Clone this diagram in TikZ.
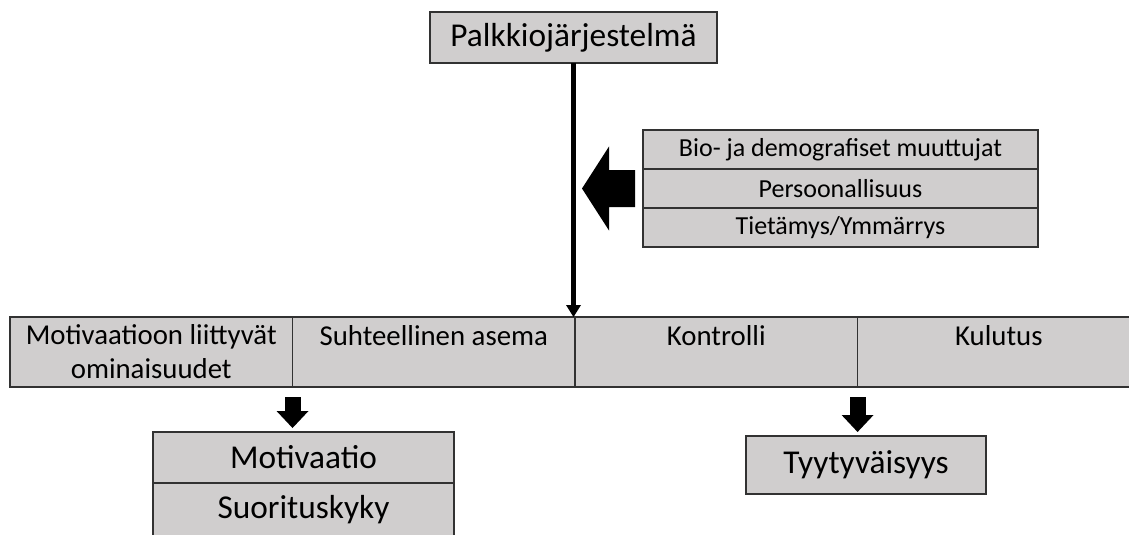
\documentclass[tikz,border=0pt]{standalone}
\usepackage{fontspec}
\setmainfont{Carlito}
\usetikzlibrary{positioning,arrows.meta}
\definecolor{cellgray}{RGB}{208,206,206}
\definecolor{cellline}{RGB}{50,50,50}

\begin{document}
\begin{tikzpicture}[x=0.75pt,y=-0.75pt,
  cell/.style={draw=cellline,line width=1.2pt,fill=cellgray,inner sep=2pt,outer sep=0pt,align=center},
  bigtext/.style={font=\fontsize{25}{30}\selectfont},
  midtext/.style={font=\fontsize{21.6}{25.5}\selectfont},
  smalltext/.style={font=\fontsize{19.5}{23}\selectfont},
  rowcell/.style={cell,midtext,minimum width=211.9pt,minimum height=52.5pt},
  factor/.style={cell,smalltext,minimum width=296.25pt,minimum height=29.25pt},
  result/.style={cell,bigtext,minimum height=38.25pt},
  blockarrow/.style={line width=12pt,-{Triangle[width=24pt,length=12.75pt,line width=0pt]}}]
  \useasboundingbox (0,0) rectangle (1129,535);
  % top
  \node[result,minimum width=215.25pt] (pj) at (573.5,37.5) {Palkkiojärjestelmä};
  % factors on the right
  \node[factor] (bio) at (840.5,149.5) {Bio- ja demografiset muuttujat};
  \node[factor,below=0pt of bio] (pers) {Persoonallisuus};
  \node[factor,below=0pt of pers] (tiet) {Tietämys/Ymmärrys};
  % row
  \node[rowcell] (motom) at (151.25,352) {Motivaatioon liittyvät\\ominaisuudet};
  \node[rowcell,right=0pt of motom] (asema) {Suhteellinen asema\\\mbox{}};
  \node[rowcell,right=0pt of asema] (kontr) {Kontrolli\\\mbox{}};
  \node[rowcell,right=0pt of kontr] (kulu) {Kulutus\\\mbox{}};
  % results
  \node[result,minimum width=225.75pt] (motiv) at (303.5,457.5) {Motivaatio};
  \node[result,minimum width=225.75pt,minimum height=39.75pt,below=0pt of motiv] (suor) {Suorituskyky};
  \node[result,minimum width=180pt,minimum height=43.5pt] (tyyt) at (866,465) {Tyytyväisyys};

  \draw[line width=3.4pt,-{Triangle[width=11.25pt,length=9pt,line width=0pt]}] (pj.south) -- (pj.south |- asema.north);
  \fill ([shift={(-8,-18.5)}]pers.west) -- ([shift={(-34,-18.5)}]pers.west) -- ([shift={(-34,-42)}]pers.west)
    -- ([shift={(-61,0)}]pers.west) -- ([shift={(-34,42)}]pers.west) -- ([shift={(-34,18.5)}]pers.west)
    -- ([shift={(-8,18.5)}]pers.west) -- cycle;
  \draw[blockarrow] ([yshift=-7.5pt]motom.south east) -- ([yshift=3pt]motom.south east |- motiv.north);
  \draw[blockarrow] ([yshift=-7.5pt]kontr.south east) -- ([yshift=3pt]kontr.south east |- tyyt.north);
\end{tikzpicture}
\end{document}
